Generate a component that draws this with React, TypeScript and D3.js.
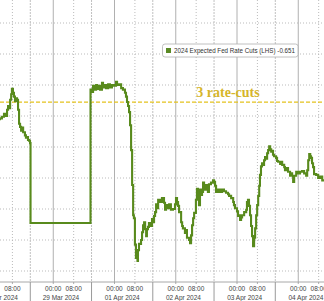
import React from "react";
import * as d3 from "d3";

// hours since 28 Mar 2024 00:00 on a compressed (weekend-skipped) trading axis
const hours = [2.4, 3.1, 3.9, 4.7, 5.1, 5.9, 6.3, 6.7, 7.1, 7.5, 7.8, 8.2, 8.6, 9.0, 9.4, 9.8, 10.2, 10.6, 11.0, 11.4, 11.8, 12.2, 12.9, 13.3, 13.7, 14.1, 14.5, 14.9, 15.1,
  38.4, 38.6, 39.2, 39.6, 40.0, 40.8, 41.2, 41.9, 42.3, 43.1, 43.5, 44.3, 44.7, 45.5, 46.2, 47.0, 47.8, 48.6, 49.0, 49.8, 50.6, 51.3, 52.1, 52.5, 52.9, 53.3, 53.7, 54.1, 54.5, 54.9, 55.3, 55.6, 56.0, 56.4, 56.8, 57.0, 57.2, 57.6,
  58.4, 58.8, 59.2, 59.6, 60.0, 60.4, 60.7, 61.1, 61.5, 61.9, 62.7, 63.1, 63.5, 63.9, 64.3, 64.7, 65.1, 65.8, 66.6, 67.4, 67.8, 68.2, 69.0, 69.4, 70.1, 70.9, 71.7, 72.1, 72.5, 72.9, 73.3,
  74.1, 74.5, 74.8, 75.6, 76.0, 76.4, 77.2, 77.6, 78.0, 78.4, 78.8, 79.2, 79.9, 80.3, 80.7, 81.1, 81.5, 81.9, 82.3, 82.7, 83.1, 83.5, 83.9, 84.6, 85.0, 85.8, 86.6, 87.0, 87.4, 87.8, 88.6, 89.4, 90.1, 90.9, 91.7,
  92.5, 92.9, 93.7, 94.5, 94.8, 95.2, 96.0, 96.4, 96.8, 97.2, 97.6, 98.0, 98.8, 99.6, 99.9, 100.3, 100.7, 101.1, 101.5, 101.9, 102.3, 102.7, 103.1, 103.5, 103.9, 104.3, 104.7, 105.0, 105.4, 105.8, 106.2, 106.6, 107.0, 107.4, 107.8, 108.2, 108.6, 109.0, 109.4, 109.7, 110.1, 110.5,
  111.3, 111.7, 112.1, 112.9, 113.3, 113.7, 114.5, 114.8, 115.2, 116.0, 116.8, 117.2, 117.6, 118.0, 118.4, 119.2, 119.9, 120.7, 121.5, 122.3, 123.1, 123.5, 123.9, 124.3, 124.7, 125.0, 125.4, 125.8, 126.2, 127.0, 127.8, 128.6, 129.4, 130.1, 130.9];

// 2024 expected Fed rate cuts (LHS)
const cuts = [-0.726, -0.727, -0.729, -0.733, -0.730, -0.738, -0.743, -0.740, -0.751, -0.758, -0.765, -0.760, -0.755, -0.749, -0.753, -0.751, -0.738, -0.720, -0.716, -0.711, -0.715, -0.709, -0.705, -0.702, -0.703, -0.699, -0.698, -0.695, -0.592,
  -0.592, -0.764, -0.761, -0.769, -0.764, -0.770, -0.765, -0.769, -0.764, -0.773, -0.767, -0.770, -0.766, -0.771, -0.767, -0.770, -0.769, -0.774, -0.770, -0.771, -0.766, -0.764, -0.760, -0.755, -0.748, -0.743, -0.735, -0.718, -0.686, -0.641, -0.602, -0.598, -0.564, -0.547, -0.555, -0.543, -0.557, -0.565,
  -0.570, -0.580, -0.589, -0.593, -0.584, -0.575, -0.584, -0.587, -0.592, -0.588, -0.597, -0.593, -0.601, -0.606, -0.616, -0.611, -0.622, -0.619, -0.624, -0.618, -0.609, -0.615, -0.611, -0.616, -0.609, -0.610, -0.616, -0.624, -0.619, -0.614, -0.606,
  -0.593, -0.588, -0.585, -0.579, -0.583, -0.573, -0.570, -0.566, -0.576, -0.589, -0.598, -0.605, -0.622, -0.636, -0.630, -0.615, -0.635, -0.628, -0.632, -0.644, -0.637, -0.635, -0.641, -0.632, -0.642, -0.644, -0.647, -0.645, -0.640, -0.632, -0.635, -0.632, -0.635, -0.633, -0.631,
  -0.629, -0.627, -0.624, -0.619, -0.615, -0.611, -0.607, -0.601, -0.602, -0.596, -0.599, -0.602, -0.606, -0.609, -0.619, -0.622, -0.614, -0.602, -0.588, -0.575, -0.562, -0.573, -0.585, -0.602, -0.615, -0.627, -0.640, -0.654, -0.665, -0.669, -0.667, -0.673, -0.677, -0.675, -0.682, -0.686, -0.691, -0.687, -0.684, -0.685, -0.680, -0.678,
  -0.676, -0.672, -0.671, -0.668, -0.671, -0.667, -0.664, -0.660, -0.663, -0.658, -0.653, -0.656, -0.653, -0.645, -0.653, -0.658, -0.656, -0.658, -0.659, -0.656, -0.653, -0.660, -0.673, -0.681, -0.678, -0.676, -0.669, -0.664, -0.655, -0.654, -0.650, -0.652, -0.647, -0.647, -0.646];

const dayLabels = ["28 Mar 2024", "29 Mar 2024", "01 Apr 2024", "02 Apr 2024", "03 Apr 2024", "04 Apr 2024"];
const dayStarts = [0, 24, 48, 72, 96, 120];
const sessionBreaks = [15, 39, 63, 87, 111];
const timeTicks = [
  { h: 8, label: "08:00" },
  { h: 24, label: "00:00" }, { h: 32, label: "08:00" },
  { h: 48, label: "00:00" }, { h: 56, label: "08:00" },
  { h: 72, label: "00:00" }, { h: 80, label: "08:00" },
  { h: 96, label: "00:00" }, { h: 104, label: "08:00" },
  { h: 120, label: "00:00" }, { h: 128, label: "08:00" },
];
const gridValues = [-0.85, -0.81, -0.77, -0.73, -0.69, -0.65, -0.61, -0.57, -0.53];
const threeCuts = -0.748;
const legendLabel = "2024 Expected Fed Rate Cuts (LHS)";
const lastValueLabel = "-0.651";

export default function App() {
  const W = 324, H = 301;
  const x = d3.scaleLinear().domain([0, 132]).range([-8, -8 + (132 * 61.25) / 24]);
  const y = d3.scaleLinear().domain([-0.85, -0.53]).range([23, 271]);
  const axisY = 282;
  const data = hours.map((h, i) => ({ h, v: cuts[i] }));
  const line = d3.line<{ h: number; v: number }>().x((d) => x(d.h)).y((d) => y(d.v)).curve(d3.curveStepAfter);
  const green = "#588a1c";
  const gold = "#e3c21e";
  const eightLines = [8, 32, 56, 80, 104, 128];
  return (
    <svg width={W} height={H} style={{ position: "absolute", left: 0, top: 0, background: "#fff" }}>
      <rect x={0} y={0} width={W} height={H} fill="#fff" />
      {gridValues.map((g) => (
        <line key={"g" + g} x1={0} x2={W} y1={y(g)} y2={y(g)} stroke="#b3b3b3" strokeWidth={0.9} strokeDasharray="1,2" />
      ))}
      {eightLines.map((h) => (
        <line key={"e" + h} x1={x(h)} x2={x(h)} y1={0} y2={axisY} stroke="#b3b3b3" strokeWidth={0.9} strokeDasharray="1,2" />
      ))}
      {sessionBreaks.map((h) => (
        <line key={"s" + h} x1={x(h)} x2={x(h)} y1={0} y2={axisY} stroke="#c0c0c0" strokeWidth={1} strokeDasharray="2,1" />
      ))}
      {dayStarts.map((h) => (
        <line key={"d" + h} x1={x(h)} x2={x(h)} y1={0} y2={axisY} stroke="#b0b0b0" strokeWidth={1} />
      ))}
      <line x1={0} x2={W} y1={axisY} y2={axisY} stroke="#a8a8a8" strokeWidth={1} />
      {timeTicks.map((t) => (
        <line key={"tk" + t.h} x1={x(t.h)} x2={x(t.h)} y1={axisY} y2={axisY + 2} stroke="#999" strokeWidth={0.8} />
      ))}
      {sessionBreaks.map((h) => (
        <line key={"sb" + h} x1={x(h)} x2={x(h)} y1={axisY} y2={H} stroke="#9a9a9a" strokeWidth={1} />
      ))}
      {timeTicks.map((t) => (
        <text key={"tl" + t.h} x={x(t.h)} y={291} textAnchor="middle" fontFamily="Liberation Sans, Arial, sans-serif" fontSize={6.5} fill="#444">
          {t.label}
        </text>
      ))}
      {dayLabels.map((lab, i) => (
        <text key={lab} x={x(dayStarts[i] + 3)} y={300} textAnchor="middle" fontFamily="Liberation Sans, Arial, sans-serif" fontSize={6.5} fill="#444">
          {lab}
        </text>
      ))}
      <line x1={0} x2={W} y1={y(threeCuts)} y2={y(threeCuts)} stroke={gold} strokeWidth={1.3} strokeDasharray="4,2" />
      <text x={228} y={97} textAnchor="middle" fontFamily="Liberation Serif, 'DejaVu Serif', serif" fontWeight="bold" fontSize={14} fill="#d6b52a">
        3 rate-cuts
      </text>
      <path d={line(data) || ""} fill="none" stroke={green} strokeWidth={2.1} strokeLinejoin="miter" />
      <rect x={162.5} y={44} width={135.5} height={13} rx={2.5} fill="#fff" stroke="#b0b0b0" strokeWidth={0.8} />
      <rect x={166} y={48} width={5} height={5} fill="#5a8a24" />
      <text x={174} y={53.3} fontFamily="Liberation Sans, Arial, sans-serif" fontSize={6.6} fill="#333" textLength={121} lengthAdjust="spacingAndGlyphs">
        {legendLabel + "  " + lastValueLabel}
      </text>
    </svg>
  );
}
